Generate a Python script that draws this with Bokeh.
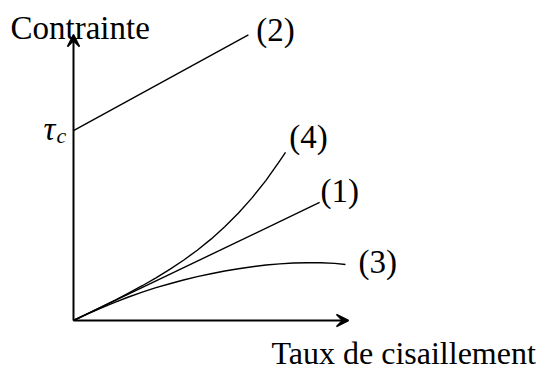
from bokeh.plotting import figure
from bokeh.models import Range1d, Arrow, VeeHead, ColumnDataSource
from bokeh.core.properties import value
from bokeh.embed import file_html
from bokeh.resources import INLINE

# ---- data (schematic units: shear rate on x, stress on y) ----
axis_x_end = 10.0
axis_y_end = 10.1

# (1) Newtonian
line1_x = [0.0, 8.95]
line1_y = [0.0, 4.17]

# (2) Bingham
line2_x = [0.0, 6.36]
line2_y = [6.71, 10.09]

# (3) shear-thinning
curve3_x = [0.0, 0.5, 1.0, 1.5, 2.0, 2.5, 3.0, 3.5, 4.0, 4.5, 5.0, 5.5, 6.0,
            6.5, 7.0, 7.5, 8.0, 8.5, 9.0, 9.5, 9.89]
curve3_y = [0.0, 0.228, 0.44, 0.64, 0.83, 1.0, 1.16, 1.30, 1.43, 1.55, 1.65,
            1.75, 1.83, 1.90, 1.96, 2.00, 2.03, 2.04, 2.04, 2.02, 1.98]

# (4) shear-thickening
curve4_x = [0.0, 0.5, 1.0, 1.5, 2.0, 2.5, 3.0, 3.5, 4.0, 4.5, 5.0, 5.5, 6.0,
            6.5, 7.0, 7.5, 7.71]
curve4_y = [0.0, 0.235, 0.473, 0.715, 0.966, 1.228, 1.506, 1.804, 2.128, 2.483,
            2.874, 3.31, 3.797, 4.341, 4.953, 5.639, 5.94]

curve_labels = ["(1)", "(2)", "(3)", "(4)"]
curve_label_x = [8.98, 6.65, 10.36, 7.85]
curve_label_y = [4.56, 10.28, 2.05, 6.50]

y_title = "Contrainte"
x_title = "Taux de cisaillement"

FONT = "Liberation Serif"
FS = "33px"

p = figure(width=551, height=376, output_backend="svg", toolbar_location=None,
           x_range=Range1d(-2.6545, 17.382), y_range=Range1d(-1.979, 11.307),
           min_border=0, min_border_left=0, min_border_right=0,
           min_border_top=0, min_border_bottom=0)
p.axis.visible = False
p.grid.visible = False
p.outline_line_color = None
p.background_fill_color = "white"
p.border_fill_color = "white"

# axes with arrows
p.add_layout(Arrow(x_start=0, y_start=0, x_end=axis_x_end, y_end=0,
                   line_width=2, line_color="black",
                   end=VeeHead(size=12, line_color="black", line_width=1.5,
                               fill_color="black")))
p.add_layout(Arrow(x_start=0, y_start=0, x_end=0, y_end=axis_y_end,
                   line_width=2, line_color="black",
                   end=VeeHead(size=12, line_color="black", line_width=1.5,
                               fill_color="black")))

lw = 1.4
p.line(line1_x, line1_y, line_width=lw, line_color="black")
p.line(line2_x, line2_y, line_width=lw, line_color="black")
p.line(curve3_x, curve3_y, line_width=lw, line_color="black", line_join="round")
p.line(curve4_x, curve4_y, line_width=lw, line_color="black", line_join="round")

src = ColumnDataSource(dict(x=curve_label_x, y=curve_label_y, t=curve_labels))
p.text(x="x", y="y", text="t", source=src, text_font=value(FONT),
       text_font_size=FS, text_align="left", text_baseline="middle",
       text_color="black")

p.text(x=[-2.29], y=[10.35], text=[y_title], text_font=value(FONT),
       text_font_size=FS, text_align="left", text_baseline="alphabetic",
       text_color="black")
p.text(x=[7.2], y=[-1.166], text=[x_title], text_font=value(FONT),
       text_font_size="32px", text_align="left", text_baseline="middle",
       text_color="black")

# tau_c
p.text(x=[-1.09], y=[6.75], text=["τ"], text_font=value(FONT),
       text_font_size=FS, text_font_style="italic", text_align="left",
       text_baseline="alphabetic", text_color="black")
p.text(x=[-0.62], y=[6.54], text=["c"], text_font=value(FONT),
       text_font_size="22px", text_font_style="italic", text_align="left",
       text_baseline="alphabetic", text_color="black")

open("out.html", "w").write(file_html(p, INLINE))
